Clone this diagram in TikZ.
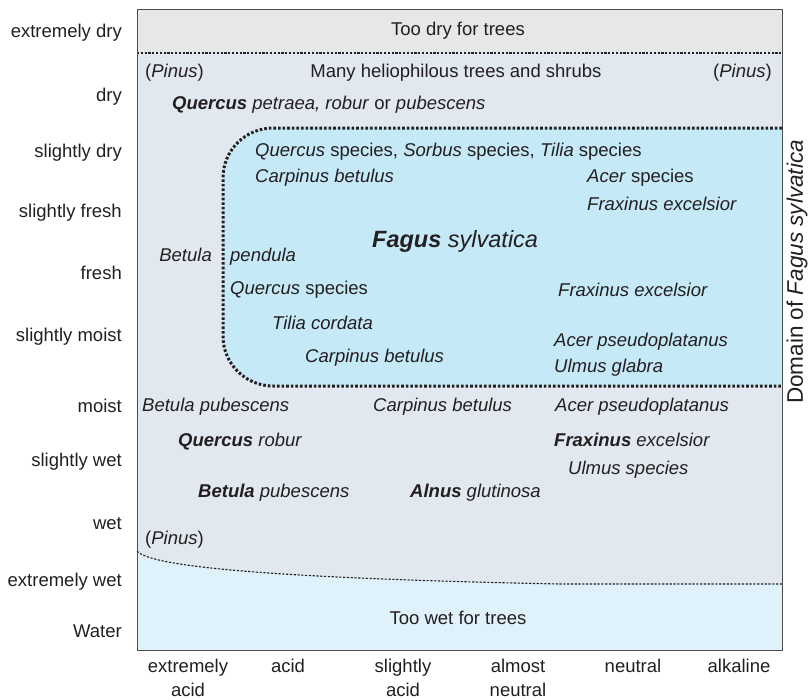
\documentclass[tikz,border=0pt]{standalone}
\usepackage{fontspec}
\setmainfont{Liberation Sans}
\definecolor{txt}{HTML}{231F20}
\definecolor{drybg}{HTML}{E6E7E8}
\definecolor{midbg}{HTML}{E1E8F0}
\definecolor{fagbg}{HTML}{C6E9F8}
\definecolor{wetbg}{HTML}{DFF1FB}
\definecolor{framec}{HTML}{4D4D4D}
\newcommand\gen[1]{\textbf{\textit{#1}}}
\newcommand\basefont{\fontsize{18.5}{23.5}\selectfont}
\begin{document}
\begin{tikzpicture}[x=1pt,y=-1pt,
  lbl/.style={font=\basefont, text=txt, inner sep=0pt, text height=1.1em, text depth=0.2em},
  axl/.style={lbl, anchor=east},
  sp/.style={lbl, anchor=west},
  bot/.style={font=\basefont, text=txt, inner sep=0pt, align=center, anchor=north},
  thindot/.style={draw=txt, line width=1.1pt, dash pattern=on 2.2pt off 1.6pt},
  domline/.style={draw=txt, line width=3pt, dash pattern=on 2.6pt off 2pt},
  frameline/.style={draw=framec, line width=1pt}]
\useasboundingbox (0,0) rectangle (808,699);
% backgrounds
\fill[midbg] (137,9) rectangle (782,650);
\fill[drybg] (137,9) rectangle (782,53);
\fill[wetbg] (137,551) .. controls (150,566) and (260,578) .. (560,584) -- (782,584) -- (782,650) -- (137,650) -- cycle;
\fill[fagbg, rounded corners=50pt] (782,128) -- (223,128) -- (223,386) -- (782,386);
% boundaries
\coordinate (dl) at (137,53); \coordinate (dr) at (782,53);
\draw[thindot] (dl) -- (dr);
\coordinate (wl) at (137,551); \coordinate (wm) at (560,584); \coordinate (wr) at (782,584);
\draw[thindot] (wl) .. controls (150,566) and (260,578) .. (wm) -- (wr);
\coordinate (ftr) at (782,128); \coordinate (ftl) at (223,128); \coordinate (fbl) at (223,386); \coordinate (fbr) at (782,386);
\draw[domline, rounded corners=50pt] (ftr) -- (ftl) -- (fbl) -- (fbr);
\draw[frameline] (137,9) rectangle (782,650);
% moisture axis
\node[axl] (m1) at (122,33) {extremely dry};
\node[axl] (m2) at (122,97) {dry};
\node[axl] (m3) at (122,153) {slightly dry};
\node[axl] (m4) at (122,213) {slightly fresh};
\node[axl] (m5) at (122,275) {fresh};
\node[axl] (m6) at (122,337) {slightly moist};
\node[axl] (m7) at (122,408) {moist};
\node[axl] (m8) at (122,462) {slightly wet};
\node[axl] (m9) at (122,525) {wet};
\node[axl] (m10) at (122,582) {extremely wet};
\node[axl] (m11) at (122,633) {Water};
% pH axis
\node[bot] (p1) at (188,659) {extremely\\acid};
\node[bot] (p2) at (288,659) {acid};
\node[bot] (p3) at (403,659) {slightly\\acid};
\node[bot] (p4) at (518,659) {almost\\neutral};
\node[bot] (p5) at (633,659) {neutral};
\node[bot] (p6) at (739,659) {alkaline};
% right label
\node[font=\fontsize{22.5}{26}\selectfont, text=txt, inner sep=0pt, rotate=90] (dom) at (797,272) {Domain of \textit{Fagus sylvatica}};
% zones
\node[lbl] (tdry) at (458,31) {Too dry for trees};
\node[lbl] (twet) at (458,620) {Too wet for trees};
\node[lbl] (helio) at (456,73) {Many heliophilous trees and shrubs};
\node[sp] (pin1) at (145,73) {(\textit{Pinus})};
\node[lbl, anchor=east] (pin2) at (772,73) {(\textit{Pinus})};
\node[sp] (qpet) at (172,105) {\gen{Quercus} \textit{petraea, robur} or \textit{pubescens}};
% Fagus domain
\node[sp] (qss) at (255,152) {\textit{Quercus} species, \textit{Sorbus} species, \textit{Tilia} species};
\node[sp] (cb1) at (255,178) {\textit{Carpinus betulus}};
\node[sp] (acs) at (587,178) {\textit{Acer} species};
\node[sp] (fe1) at (587,206) {\textit{Fraxinus excelsior}};
\node[sp] (fag) at (372,243) {{\fontsize{23.5}{28}\selectfont\gen{Fagus} \textit{sylvatica}}};
\node[lbl, anchor=east] (bet) at (212,257) {\textit{Betula}};
\node[sp] (pend) at (230,257) {\textit{pendula}};
\node[sp] (qs2) at (230,290) {\textit{Quercus} species};
\node[sp] (tc) at (272,325) {\textit{Tilia cordata}};
\node[sp] (cb2) at (305,358) {\textit{Carpinus betulus}};
\node[sp] (fe2) at (558,292) {\textit{Fraxinus excelsior}};
\node[sp] (ap1) at (554,342) {\textit{Acer pseudoplatanus}};
\node[sp] (ug) at (554,368) {\textit{Ulmus glabra}};
% below domain
\node[sp] (bp1) at (142,407) {\textit{Betula pubescens}};
\node[sp] (cb3) at (373,407) {\textit{Carpinus betulus}};
\node[sp] (ap2) at (555,407) {\textit{Acer pseudoplatanus}};
\node[sp] (qr) at (178,442) {\gen{Quercus} \textit{robur}};
\node[sp] (fe3) at (554,442) {\gen{Fraxinus} \textit{excelsior}};
\node[sp] (us) at (568,470) {\textit{Ulmus species}};
\node[sp] (bp2) at (198,493) {\gen{Betula} \textit{pubescens}};
\node[sp] (ag) at (410,493) {\gen{Alnus} \textit{glutinosa}};
\node[sp] (pin3) at (145,540) {(\textit{Pinus})};
\end{tikzpicture}
\end{document}
